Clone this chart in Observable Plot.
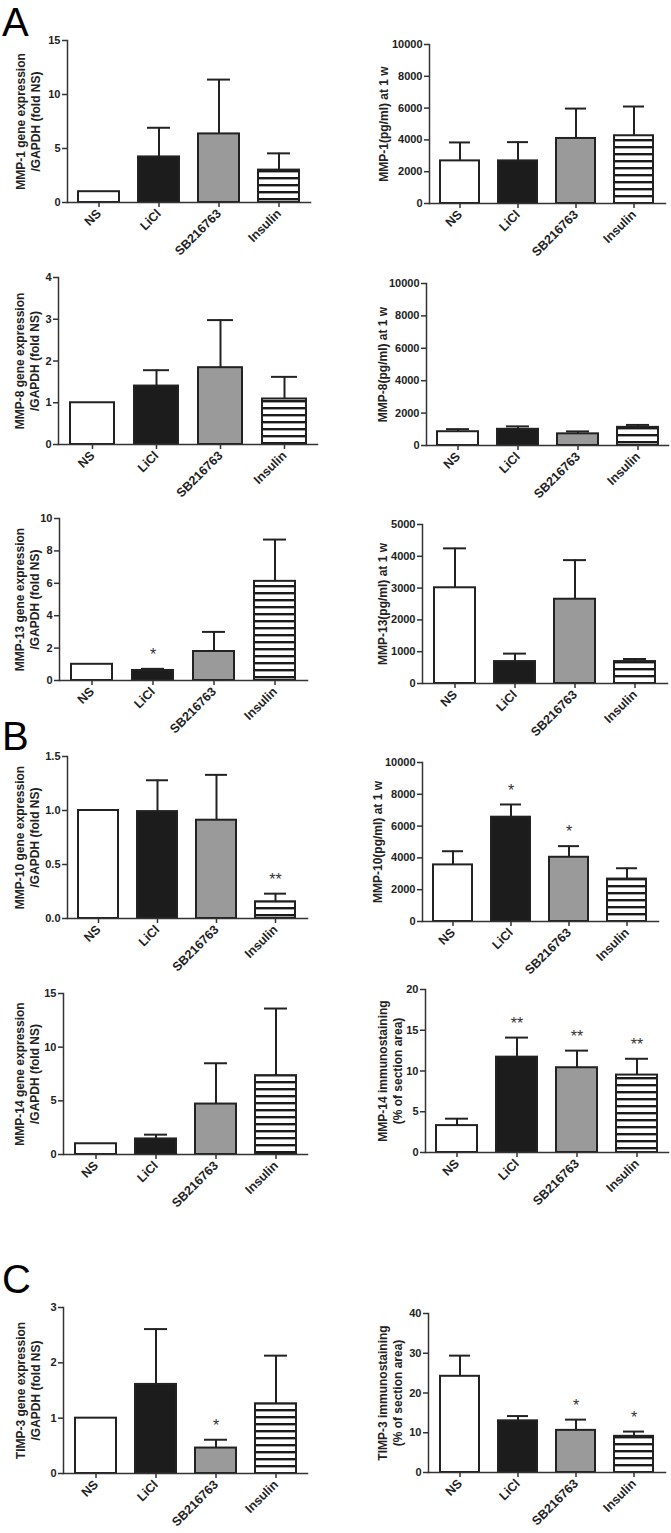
<!DOCTYPE html>
<html>
<head>
<meta charset="utf-8">
<script src="https://cdn.jsdelivr.net/npm/d3@7"></script>
<script src="https://cdn.jsdelivr.net/npm/@observablehq/plot@0.6"></script>
<style>
  body { margin: 0; background: #fff; }
  #fig { position: relative; width: 671px; height: 1533px; background: #fff; overflow: hidden;
         font-family: "Liberation Sans", Arial, sans-serif; }
  .letter { position: absolute; font-size: 40px; line-height: 45px; color: #000;
            font-family: "Liberation Sans", Arial, sans-serif; }
</style>
</head>
<body>
<div id="fig"></div>
<script>
// ---------- data ----------
const groups = ["NS", "LiCl", "SB216763", "Insulin"];

const mmp1GeneMean = [1.0, 4.22, 6.35, 3.0];
const mmp1GeneSD   = [0, 2.70, 5.03, 1.55];
const mmp1ProtMean = [2680, 2680, 4090, 4260];
const mmp1ProtSD   = [1160, 1180, 1880, 1840];

const mmp8GeneMean = [1.0, 1.40, 1.84, 1.09];
const mmp8GeneSD   = [0, 0.38, 1.14, 0.53];
const mmp8ProtMean = [850, 1000, 720, 1120];
const mmp8ProtSD   = [160, 180, 150, 150];

const mmp13GeneMean = [1.0, 0.62, 1.79, 6.12];
const mmp13GeneSD   = [0, 0.10, 1.21, 2.58];
const mmp13GeneSig  = ["", "*", "", ""];
const mmp13ProtMean = [3010, 690, 2650, 690];
const mmp13ProtSD   = [1240, 250, 1230, 80];

const mmp10GeneMean = [1.0, 0.99, 0.91, 0.155];
const mmp10GeneSD   = [0, 0.29, 0.42, 0.075];
const mmp10GeneSig  = ["", "", "", "**"];
const mmp10ProtMean = [3560, 6560, 4040, 2670];
const mmp10ProtSD   = [860, 800, 700, 680];
const mmp10ProtSig  = ["", "*", "*", ""];

const mmp14GeneMean = [1.0, 1.45, 4.7, 7.35];
const mmp14GeneSD   = [0, 0.40, 3.8, 6.25];
const mmp14StainMean = [3.3, 11.7, 10.4, 9.5];
const mmp14StainSD   = [0.85, 2.4, 2.1, 2.0];
const mmp14StainSig  = ["", "**", "**", "**"];

const timp3GeneMean = [1.0, 1.61, 0.46, 1.26];
const timp3GeneSD   = [0, 1.0, 0.15, 0.87];
const timp3GeneSig  = ["", "", "*", ""];
const timp3StainMean = [24.2, 13.0, 10.6, 9.1];
const timp3StainSD   = [5.2, 1.2, 2.7, 1.2];
const timp3StainSig  = ["", "", "*", "*"];

// tick values
const ticks0to15by5 = [0, 5, 10, 15];
const ticks0to10000 = [0, 2000, 4000, 6000, 8000, 10000];
const ticks0to4 = [0, 1, 2, 3, 4];
const ticks0to10by2 = [0, 2, 4, 6, 8, 10];
const ticks0to5000 = [0, 1000, 2000, 3000, 4000, 5000];
const ticks0to1p5 = [0, 0.5, 1.0, 1.5];
const ticks0to20 = [0, 5, 10, 15, 20];
const ticks0to3 = [0, 1, 2, 3];
const ticks0to40 = [0, 10, 20, 30, 40];

// y-axis titles
const labelMmp1Gene = "MMP-1 gene expression\n/GAPDH (fold NS)";
const labelMmp1Prot = "MMP-1(pg/ml) at 1 w";
const labelMmp8Gene = "MMP-8 gene expression\n/GAPDH (fold NS)";
const labelMmp8Prot = "MMP-8(pg/ml) at 1 w";
const labelMmp13Gene = "MMP-13 gene expression\n/GAPDH (fold NS)";
const labelMmp13Prot = "MMP-13(pg/ml) at 1 w";
const labelMmp10Gene = "MMP-10 gene expression\n/GAPDH (fold NS)";
const labelMmp10Prot = "MMP-10(pg/ml) at 1 w";
const labelMmp14Gene = "MMP-14 gene expression\n/GAPDH (fold NS)";
const labelMmp14Stain = "MMP-14 immunostaining\n(% of section area)";
const labelTimp3Gene = "TIMP-3 gene expression\n/GAPDH (fold NS)";
const labelTimp3Stain = "TIMP-3 immunostaining\n(% of section area)";

const panelLetters = ["A", "B", "C"];

// ---------- styles / layout ----------
const FONT = "Liberation Sans, Arial, sans-serif";
const INK = "#222";
const AXIS = "#333";
const fillLiCl = "#1c1c1c";
const fillSB = "#9a9a9a";

const intFmt = d3.format("d");
const dec1Fmt = d3.format(".1f");

// layout: svgLeft, axis x, x-axis end, y of top tick, y of zero, label centre x
const panels = [
  {key:"p1",  mean:mmp1GeneMean,  sd:mmp1GeneSD,  sig:null, ticks:ticks0to15by5, max:15,    fmt:intFmt, label:labelMmp1Gene,  L:{sx:0,   ax:67,  xr:310, yt:40,   y0:202,  lc:27}},
  {key:"p2",  mean:mmp1ProtMean,  sd:mmp1ProtSD,  sig:null, ticks:ticks0to10000, max:10000, fmt:intFmt, label:labelMmp1Prot,  L:{sx:335, ax:429, xr:665, yt:44,   y0:203,  lc:383}},
  {key:"p3",  mean:mmp8GeneMean,  sd:mmp8GeneSD,  sig:null, ticks:ticks0to4,     max:4,     fmt:intFmt, label:labelMmp8Gene,  L:{sx:0,   ax:58,  xr:317, yt:277,  y0:444,  lc:26}},
  {key:"p4",  mean:mmp8ProtMean,  sd:mmp8ProtSD,  sig:null, ticks:ticks0to10000, max:10000, fmt:intFmt, label:labelMmp8Prot,  L:{sx:335, ax:426, xr:668, yt:283,  y0:445,  lc:382}},
  {key:"p5",  mean:mmp13GeneMean, sd:mmp13GeneSD, sig:mmp13GeneSig, ticks:ticks0to10by2, max:10, fmt:intFmt, label:labelMmp13Gene, L:{sx:0, ax:59, xr:307, yt:518, y0:680, lc:26}},
  {key:"p6",  mean:mmp13ProtMean, sd:mmp13ProtSD, sig:null, ticks:ticks0to5000,  max:5000,  fmt:intFmt, label:labelMmp13Prot, L:{sx:335, ax:422, xr:667, yt:524,  y0:683,  lc:382}},
  {key:"p7",  mean:mmp10GeneMean, sd:mmp10GeneSD, sig:mmp10GeneSig, ticks:ticks0to1p5, max:1.5, fmt:dec1Fmt, label:labelMmp10Gene, L:{sx:0, ax:67, xr:307, yt:756, y0:918, lc:26}},
  {key:"p8",  mean:mmp10ProtMean, sd:mmp10ProtSD, sig:mmp10ProtSig, ticks:ticks0to10000, max:10000, fmt:intFmt, label:labelMmp10Prot, L:{sx:335, ax:422, xr:658, yt:762, y0:921, lc:377}},
  {key:"p9",  mean:mmp14GeneMean, sd:mmp14GeneSD, sig:null, ticks:ticks0to15by5, max:15,    fmt:intFmt, label:labelMmp14Gene, L:{sx:0,   ax:63,  xr:307, yt:993,  y0:1154, lc:26}},
  {key:"p10", mean:mmp14StainMean, sd:mmp14StainSD, sig:mmp14StainSig, ticks:ticks0to20, max:20, fmt:intFmt, label:labelMmp14Stain, L:{sx:335, ax:425, xr:668, yt:989, y0:1152, lc:389}},
  {key:"p11", mean:timp3GeneMean, sd:timp3GeneSD, sig:timp3GeneSig, ticks:ticks0to3, max:3, fmt:intFmt, label:labelTimp3Gene, L:{sx:0, ax:63, xr:307, yt:1307, y0:1473, lc:27}},
  {key:"p12", mean:timp3StainMean, sd:timp3StainSD, sig:timp3StainSig, ticks:ticks0to40, max:40, fmt:intFmt, label:labelTimp3Stain, L:{sx:335, ax:428, xr:665, yt:1313, y0:1472, lc:389}}
];

const fig = document.getElementById("fig");
const MT = 10, MB = 72, MR = 2;

for (const p of panels) {
  const L = p.L;
  const stripeId = "stripes-" + p.key;
  const fills = ["#ffffff", fillLiCl, fillSB, `url(#${stripeId})`];
  const rows = groups.map((g, i) => ({
    group: g, mean: p.mean[i], sd: p.sd[i], top: p.mean[i] + p.sd[i],
    sig: p.sig ? p.sig[i] : "", fill: fills[i]
  }));
  const errRows = rows.filter(d => d.sd > 0);
  const sigRows = rows.filter(d => d.sig);
  const marginLeft = L.ax - L.sx;
  const width = L.xr - L.sx + MR;
  const height = (L.y0 - L.yt) + MT + MB;

  const svg = Plot.plot({
    width, height,
    marginLeft, marginRight: MR, marginTop: MT, marginBottom: MB,
    style: { fontFamily: FONT, fontSize: "11px", fontWeight: "bold", color: INK, background: "transparent", overflow: "visible" },
    x: { domain: groups, paddingInner: 0.32, paddingOuter: 0.17 },
    y: { domain: [0, p.max] },
    color: { type: "identity" },
    marks: [
      Plot.barY(rows, { x: "group", y: "mean", fill: "fill", stroke: INK, strokeWidth: 2 }),
      Plot.ruleX(errRows, { x: "group", y1: "mean", y2: "top", stroke: INK, strokeWidth: 2 }),
      Plot.tickY(errRows, { x: "group", y: "top", stroke: INK, strokeWidth: 2, inset: 9 }),
      Plot.text(sigRows, { x: "group", y: "top", text: "sig", dy: -14, fontSize: 16, fontWeight: "normal", fill: "#333" }),
      Plot.frame({ anchor: "left", stroke: AXIS, strokeWidth: 1.5 }),
      Plot.frame({ anchor: "bottom", stroke: AXIS, strokeWidth: 1.5 }),
      Plot.axisY({ ticks: p.ticks, tickFormat: p.fmt, tickSize: 5, tickPadding: 2, label: null,
                   stroke: AXIS, strokeWidth: 1.5, fill: INK, fontSize: 11 }),
      Plot.axisX({ tickRotate: -45, tickSize: 5, tickPadding: 4, label: null,
                   stroke: AXIS, strokeWidth: 1.5, fill: INK, fontSize: 12.5 }),
      Plot.text([p.label], { text: d => d, frameAnchor: "left", textAnchor: "middle", lineAnchor: "middle",
                   rotate: -90, dx: L.lc - L.ax, lineHeight: 1.25, fontSize: 12, fontWeight: "bold", fill: INK })
    ]
  });

  const ns = "http://www.w3.org/2000/svg";
  const defs = document.createElementNS(ns, "defs");
  const pat = document.createElementNS(ns, "pattern");
  pat.setAttribute("id", stripeId);
  pat.setAttribute("patternUnits", "userSpaceOnUse");
  pat.setAttribute("width", "10");
  pat.setAttribute("height", "7");
  const bg = document.createElementNS(ns, "rect");
  bg.setAttribute("width", "10"); bg.setAttribute("height", "7"); bg.setAttribute("fill", "#ffffff");
  const st = document.createElementNS(ns, "rect");
  st.setAttribute("width", "10"); st.setAttribute("height", "2.4"); st.setAttribute("fill", "#1a1a1a");
  pat.appendChild(bg); pat.appendChild(st);
  defs.appendChild(pat);
  svg.insertBefore(defs, svg.firstChild);

  svg.style.position = "absolute";
  svg.style.left = L.sx + "px";
  svg.style.top = (L.yt - MT) + "px";
  svg.style.maxWidth = "none";
  fig.appendChild(svg);
}

// panel letters
const letterTops = [0, 714, 1257];
panelLetters.forEach((t, i) => {
  const d = document.createElement("div");
  d.className = "letter";
  d.textContent = t;
  d.style.left = "2px";
  d.style.top = letterTops[i] + "px";
  fig.appendChild(d);
});
</script>
</body>
</html>
